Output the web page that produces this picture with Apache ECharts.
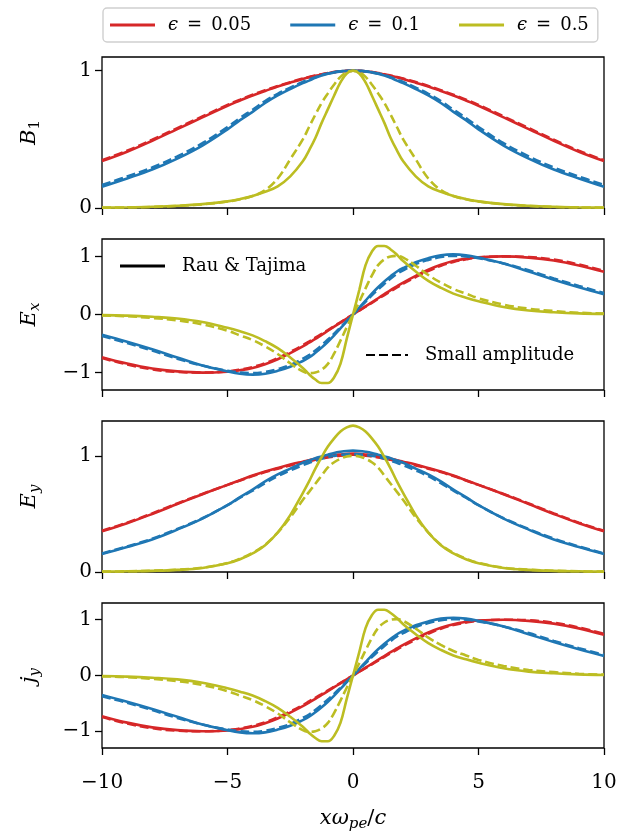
<!DOCTYPE html>
<html>
<head>
<meta charset="utf-8">
<script src="https://cdn.jsdelivr.net/npm/echarts@6/dist/echarts.min.js"></script>
<style>
html,body{margin:0;padding:0;background:#fff;}
#chart{width:629px;height:833px;}
</style>
</head>
<body>
<div id="chart"></div>
<script>
// shared x sample positions (x * omega_pe / c)
const X = [-10,-9,-8,-7,-6,-5,-4.5,-4,-3.5,-3,-2.5,-2,-1.75,-1.5,-1.25,-1,-0.75,-0.5,-0.25,0,0.25,0.5,0.75,1,1.25,1.5,1.75,2,2.5,3,3.5,4,4.5,5,6,7,8,9,10];

const SERIES_NAMES = ['ϵ = 0.05','ϵ = 0.1','ϵ = 0.5'];
const X_TICKS = [-10,-5,0,5,10];

// ---- B1 ----
const B1_RED_S = [0.342,0.41,0.49,0.575,0.66,0.745,0.783,0.82,0.853,0.885,0.913,0.94,0.952,0.963,0.973,0.982,0.99,0.995,0.999,1,0.999,0.995,0.99,0.982,0.973,0.963,0.952,0.94,0.913,0.885,0.853,0.82,0.783,0.745,0.66,0.575,0.49,0.41,0.342];
const B1_RED_D = [0.348,0.417,0.497,0.582,0.667,0.751,0.789,0.825,0.858,0.889,0.917,0.943,0.955,0.965,0.975,0.983,0.99,0.996,0.999,1,0.999,0.996,0.99,0.983,0.975,0.965,0.955,0.943,0.917,0.889,0.858,0.825,0.789,0.751,0.667,0.582,0.497,0.417,0.348];
const B1_BLUE_S = [0.155,0.215,0.28,0.36,0.455,0.573,0.64,0.7,0.765,0.82,0.867,0.91,0.928,0.948,0.965,0.978,0.988,0.995,0.999,1,0.999,0.995,0.988,0.978,0.965,0.948,0.928,0.91,0.867,0.82,0.765,0.7,0.64,0.573,0.455,0.36,0.28,0.215,0.155];
const B1_BLUE_D = [0.168,0.229,0.295,0.376,0.472,0.59,0.656,0.716,0.779,0.832,0.877,0.918,0.935,0.953,0.969,0.98,0.989,0.996,0.999,1,0.999,0.996,0.989,0.98,0.969,0.953,0.935,0.918,0.877,0.832,0.779,0.716,0.656,0.59,0.472,0.376,0.295,0.229,0.168];
const B1_OLIVE_S = [0.003,0.005,0.009,0.016,0.028,0.048,0.065,0.088,0.118,0.157,0.23,0.34,0.42,0.51,0.62,0.72,0.82,0.915,0.98,1,0.98,0.915,0.82,0.72,0.62,0.51,0.42,0.34,0.23,0.157,0.118,0.088,0.065,0.048,0.028,0.016,0.009,0.005,0.003];
const B1_OLIVE_D = [0.002,0.004,0.008,0.015,0.027,0.047,0.063,0.087,0.13,0.215,0.355,0.5,0.59,0.68,0.765,0.835,0.9,0.955,0.99,1,0.99,0.955,0.9,0.835,0.765,0.68,0.59,0.5,0.355,0.215,0.13,0.087,0.063,0.047,0.027,0.015,0.008,0.004,0.002];

// ---- Ex ----
const EX_RED_S = [-0.735,-0.845,-0.93,-0.98,-1,-0.985,-0.96,-0.92,-0.855,-0.77,-0.665,-0.55,-0.485,-0.42,-0.35,-0.28,-0.21,-0.14,-0.07,0,0.07,0.14,0.21,0.28,0.35,0.42,0.485,0.55,0.665,0.77,0.855,0.92,0.96,0.985,1,0.98,0.93,0.845,0.735];
const EX_RED_D = [-0.75,-0.86,-0.945,-0.99,-1,-0.98,-0.95,-0.905,-0.84,-0.75,-0.645,-0.53,-0.465,-0.4,-0.335,-0.268,-0.2,-0.134,-0.067,0,0.067,0.134,0.2,0.268,0.335,0.4,0.465,0.53,0.645,0.75,0.84,0.905,0.95,0.98,1,0.99,0.945,0.86,0.75];
const EX_BLUE_S = [-0.35,-0.47,-0.6,-0.74,-0.88,-0.98,-1.02,-1.035,-1.02,-0.97,-0.9,-0.8,-0.74,-0.66,-0.57,-0.47,-0.36,-0.24,-0.12,0,0.12,0.24,0.36,0.47,0.57,0.66,0.74,0.8,0.9,0.97,1.02,1.035,1.02,0.98,0.88,0.74,0.6,0.47,0.35];
const EX_BLUE_D = [-0.37,-0.49,-0.62,-0.76,-0.88,-0.97,-1,-1.01,-0.99,-0.94,-0.87,-0.76,-0.7,-0.62,-0.53,-0.43,-0.33,-0.22,-0.11,0,0.11,0.22,0.33,0.43,0.53,0.62,0.7,0.76,0.87,0.94,0.99,1.01,1,0.97,0.88,0.76,0.62,0.49,0.37];
const EX_OLIVE_S = [-0.01,-0.02,-0.04,-0.07,-0.13,-0.23,-0.29,-0.36,-0.46,-0.58,-0.74,-0.92,-1.03,-1.12,-1.18,-1.18,-1.08,-0.85,-0.42,0,0.42,0.85,1.08,1.18,1.18,1.12,1.03,0.92,0.74,0.58,0.46,0.36,0.29,0.23,0.13,0.07,0.04,0.02,0.01];
const EX_OLIVE_D = [-0.015,-0.03,-0.06,-0.1,-0.17,-0.28,-0.36,-0.44,-0.55,-0.68,-0.84,-0.98,-1.01,-1,-0.95,-0.85,-0.67,-0.45,-0.22,0,0.22,0.45,0.67,0.85,0.95,1,1.01,0.98,0.84,0.68,0.55,0.44,0.36,0.28,0.17,0.1,0.06,0.03,0.015];

// ---- Ey ----
const EY_RED_S = [0.35,0.42,0.5,0.585,0.67,0.75,0.79,0.83,0.865,0.895,0.925,0.95,0.962,0.975,0.985,0.995,1.005,1.012,1.018,1.02,1.018,1.012,1.005,0.995,0.985,0.975,0.962,0.95,0.925,0.895,0.865,0.83,0.79,0.75,0.67,0.585,0.5,0.42,0.35];
const EY_RED_D = [0.355,0.425,0.505,0.59,0.672,0.75,0.788,0.826,0.86,0.89,0.918,0.942,0.954,0.966,0.976,0.986,0.995,1.002,1.007,1.01,1.007,1.002,0.995,0.986,0.976,0.966,0.954,0.942,0.918,0.89,0.86,0.826,0.788,0.75,0.672,0.59,0.505,0.425,0.355];
const EY_BLUE_S = [0.155,0.215,0.28,0.365,0.46,0.575,0.645,0.71,0.78,0.84,0.89,0.94,0.96,0.98,0.995,1.01,1.025,1.035,1.042,1.045,1.042,1.035,1.025,1.01,0.995,0.98,0.96,0.94,0.89,0.84,0.78,0.71,0.645,0.575,0.46,0.365,0.28,0.215,0.155];
const EY_BLUE_D = [0.16,0.22,0.287,0.37,0.463,0.575,0.64,0.7,0.765,0.825,0.875,0.92,0.94,0.958,0.975,0.99,1,1.008,1.013,1.015,1.013,1.008,1,0.99,0.975,0.958,0.94,0.92,0.875,0.825,0.765,0.7,0.64,0.575,0.463,0.37,0.287,0.22,0.16];
const EY_OLIVE_S = [0.003,0.006,0.01,0.018,0.035,0.075,0.11,0.16,0.23,0.34,0.49,0.68,0.78,0.89,0.99,1.08,1.15,1.21,1.245,1.26,1.245,1.21,1.15,1.08,0.99,0.89,0.78,0.68,0.49,0.34,0.23,0.16,0.11,0.075,0.035,0.018,0.01,0.006,0.003];
const EY_OLIVE_D = [0.003,0.006,0.011,0.02,0.037,0.078,0.115,0.165,0.235,0.34,0.47,0.62,0.69,0.76,0.83,0.9,0.945,0.975,0.995,1,0.995,0.975,0.945,0.9,0.83,0.76,0.69,0.62,0.47,0.34,0.235,0.165,0.115,0.078,0.037,0.02,0.011,0.006,0.003];

// ---- jy ----
const JY_RED_S = [-0.73,-0.845,-0.93,-0.98,-1,-0.985,-0.96,-0.92,-0.855,-0.77,-0.665,-0.55,-0.485,-0.42,-0.35,-0.28,-0.21,-0.14,-0.07,0,0.07,0.14,0.21,0.28,0.35,0.42,0.485,0.55,0.665,0.77,0.855,0.92,0.96,0.985,1,0.98,0.93,0.845,0.73];
const JY_RED_D = [-0.745,-0.86,-0.945,-0.99,-1,-0.98,-0.95,-0.905,-0.84,-0.75,-0.645,-0.53,-0.465,-0.4,-0.335,-0.268,-0.2,-0.134,-0.067,0,0.067,0.134,0.2,0.268,0.335,0.4,0.465,0.53,0.645,0.75,0.84,0.905,0.95,0.98,1,0.99,0.945,0.86,0.745];
const JY_BLUE_S = [-0.35,-0.47,-0.6,-0.74,-0.88,-0.98,-1.02,-1.035,-1.02,-0.97,-0.9,-0.8,-0.74,-0.66,-0.57,-0.47,-0.36,-0.24,-0.12,0,0.12,0.24,0.36,0.47,0.57,0.66,0.74,0.8,0.9,0.97,1.02,1.035,1.02,0.98,0.88,0.74,0.6,0.47,0.35];
const JY_BLUE_D = [-0.37,-0.49,-0.62,-0.76,-0.88,-0.97,-1,-1.01,-0.99,-0.94,-0.87,-0.76,-0.7,-0.62,-0.53,-0.43,-0.33,-0.22,-0.11,0,0.11,0.22,0.33,0.43,0.53,0.62,0.7,0.76,0.87,0.94,0.99,1.01,1,0.97,0.88,0.76,0.62,0.49,0.37];
const JY_OLIVE_S = [-0.01,-0.02,-0.04,-0.07,-0.13,-0.23,-0.29,-0.36,-0.46,-0.58,-0.74,-0.92,-1.03,-1.12,-1.18,-1.18,-1.08,-0.85,-0.42,0,0.42,0.85,1.08,1.18,1.18,1.12,1.03,0.92,0.74,0.58,0.46,0.36,0.29,0.23,0.13,0.07,0.04,0.02,0.01];
const JY_OLIVE_D = [-0.015,-0.03,-0.06,-0.1,-0.17,-0.28,-0.36,-0.44,-0.55,-0.68,-0.84,-0.98,-1.01,-1,-0.95,-0.85,-0.67,-0.45,-0.22,0,0.22,0.45,0.67,0.85,0.95,1,1.01,0.98,0.84,0.68,0.55,0.44,0.36,0.28,0.17,0.1,0.06,0.03,0.015];

const Y_TICKS_POS = [0, 1];
const Y_TICKS_SYM = [-1, 0, 1];

const COLORS = ['#d62728', '#1f77b4', '#bcbd22'];
const FONT = "'DejaVu Serif', 'Liberation Serif', serif";

const panels = [
  { solid: [B1_RED_S, B1_BLUE_S, B1_OLIVE_S], dashed: [B1_RED_D, B1_BLUE_D, B1_OLIVE_D], min: 0, max: 1.1, ticks: Y_TICKS_POS,
    name: '{i|B}{s|1}' },
  { solid: [EX_RED_S, EX_BLUE_S, EX_OLIVE_S], dashed: [EX_RED_D, EX_BLUE_D, EX_OLIVE_D], min: -1.3, max: 1.3, ticks: Y_TICKS_SYM,
    name: '{i|E}{si|x}' },
  { solid: [EY_RED_S, EY_BLUE_S, EY_OLIVE_S], dashed: [EY_RED_D, EY_BLUE_D, EY_OLIVE_D], min: 0, max: 1.3, ticks: Y_TICKS_POS,
    name: '{i|E}{si|y}' },
  { solid: [JY_RED_S, JY_BLUE_S, JY_OLIVE_S], dashed: [JY_RED_D, JY_BLUE_D, JY_OLIVE_D], min: -1.3, max: 1.3, ticks: Y_TICKS_SYM,
    name: '{i|j}{si|y}' }
];

const tops = [57, 239, 421, 603];
const fmt = v => (v < 0 ? '\u2212' + Math.abs(v) : String(v));

const nameRich = {
  i: { fontFamily: FONT, fontStyle: 'italic', fontSize: 21, color: '#000' },
  s: { fontFamily: FONT, fontSize: 15, color: '#000', padding: [12, 0, 0, 0] },
  si: { fontFamily: FONT, fontStyle: 'italic', fontSize: 15, color: '#000', padding: [12, 0, 0, 0] },
  r: { fontFamily: FONT, fontSize: 21, color: '#000' }
};

const LW = 2.6;
const SMOOTH = 0.4;
const grids = [], xAxes = [], yAxes = [], series = [];
panels.forEach((p, i) => {
  grids.push({ left: 102, width: 502, top: tops[i], height: 151, show: true, borderColor: '#000', borderWidth: 1.3, backgroundColor: 'transparent' });
  xAxes.push({
    type: 'value', gridIndex: i, min: -10, max: 10, interval: 5,
    axisLine: { show: false, onZero: false },
    axisTick: { show: true, length: 7, lineStyle: { color: '#000', width: 1.3 } },
    splitLine: { show: false },
    axisLabel: { show: i === 3, formatter: fmt, fontFamily: FONT, fontSize: 20, color: '#000', margin: 25 },
    name: i === 3 ? '{i|xω}{si|pe}{r|/}{i|c}' : '',
    nameLocation: 'middle', nameGap: 57,
    nameTextStyle: { rich: nameRich }
  });
  yAxes.push({
    type: 'value', gridIndex: i, min: p.min, max: p.max,
    axisLine: { show: false, onZero: false },
    axisTick: { show: true, length: 7, customValues: p.ticks, lineStyle: { color: '#000', width: 1.3 } },
    splitLine: { show: false },
    axisLabel: { customValues: p.ticks, formatter: fmt, fontFamily: FONT, fontSize: 20, color: '#000', margin: 10 },
    name: p.name, nameLocation: 'middle', nameRotate: 90, nameGap: 59,
    nameTextStyle: { rich: nameRich }
  });
  for (let c = 0; c < 3; c++) {
    series.push({
      type: 'line', name: SERIES_NAMES[c], xAxisIndex: i, yAxisIndex: i,
      data: X.map((x, k) => [x, p.solid[c][k]]),
      smooth: SMOOTH, symbol: 'none', silent: true, animation: false,
      lineStyle: { color: COLORS[c], width: LW }, itemStyle: { color: COLORS[c] }, z: 2 + c * 2
    });
    series.push({
      type: 'line', name: SERIES_NAMES[c] + ' (small)', xAxisIndex: i, yAxisIndex: i,
      data: X.map((x, k) => [x, p.dashed[c][k]]),
      smooth: SMOOTH, symbol: 'none', silent: true, animation: false,
      lineStyle: { color: COLORS[c], width: LW, type: [9, 4] }, itemStyle: { color: COLORS[c] }, z: 3 + c * 2
    });
  }
});

// dummy series carrying the style legend (solid vs dashed)
series.push({ type: 'line', name: 'Rau & Tajima', xAxisIndex: 1, yAxisIndex: 1, data: [], symbol: 'none',
  lineStyle: { color: '#000', width: LW }, itemStyle: { color: '#000' } });
series.push({ type: 'line', name: 'Small amplitude', xAxisIndex: 1, yAxisIndex: 1, data: [], symbol: 'none',
  lineStyle: { color: '#000', width: LW, type: [9, 4] }, itemStyle: { color: '#000' } });

const chart = echarts.init(document.getElementById('chart'), null, { renderer: 'canvas' });
chart.setOption({
  backgroundColor: '#fff',
  animation: false,
  grid: grids, xAxis: xAxes, yAxis: yAxes, series: series,
  legend: [
    {
      data: SERIES_NAMES, left: 103, top: 8, orient: 'horizontal',
      icon: 'rect', itemWidth: 45, itemHeight: 2.8, itemGap: 39,
      padding: [8, 9, 8, 7],
      borderColor: '#cfcfcf', borderWidth: 1.4, borderRadius: 4,
      selectedMode: false,
      formatter: n => '{e|ϵ}{t|' + n.slice(1).replace(/ /g, '\u2002') + '}',
      textStyle: { color: '#000', fontFamily: FONT, fontSize: 18, padding: [0, 0, 0, 8],
        rich: { e: { fontFamily: FONT, fontStyle: 'italic', fontSize: 18, color: '#000' },
                t: { fontFamily: FONT, fontSize: 18, color: '#000' } } }
    },
    {
      data: ['Rau & Tajima'], left: 120, top: 257, icon: 'rect', itemWidth: 45, itemHeight: 2.8, selectedMode: false, padding: 0,
      textStyle: { color: '#000', fontFamily: FONT, fontSize: 18, padding: [0, 0, 0, 12] }
    },
    {
      data: ['Small amplitude'], left: 365, top: 346, itemWidth: 42, itemHeight: 14, selectedMode: false, padding: 0,
      itemStyle: { color: 'rgba(0,0,0,0)', borderColor: 'rgba(0,0,0,0)', borderWidth: 0 },
      textStyle: { color: '#000', fontFamily: FONT, fontSize: 18, padding: [0, 0, 0, 12] }
    }
  ]
});
</script>
</body>
</html>
